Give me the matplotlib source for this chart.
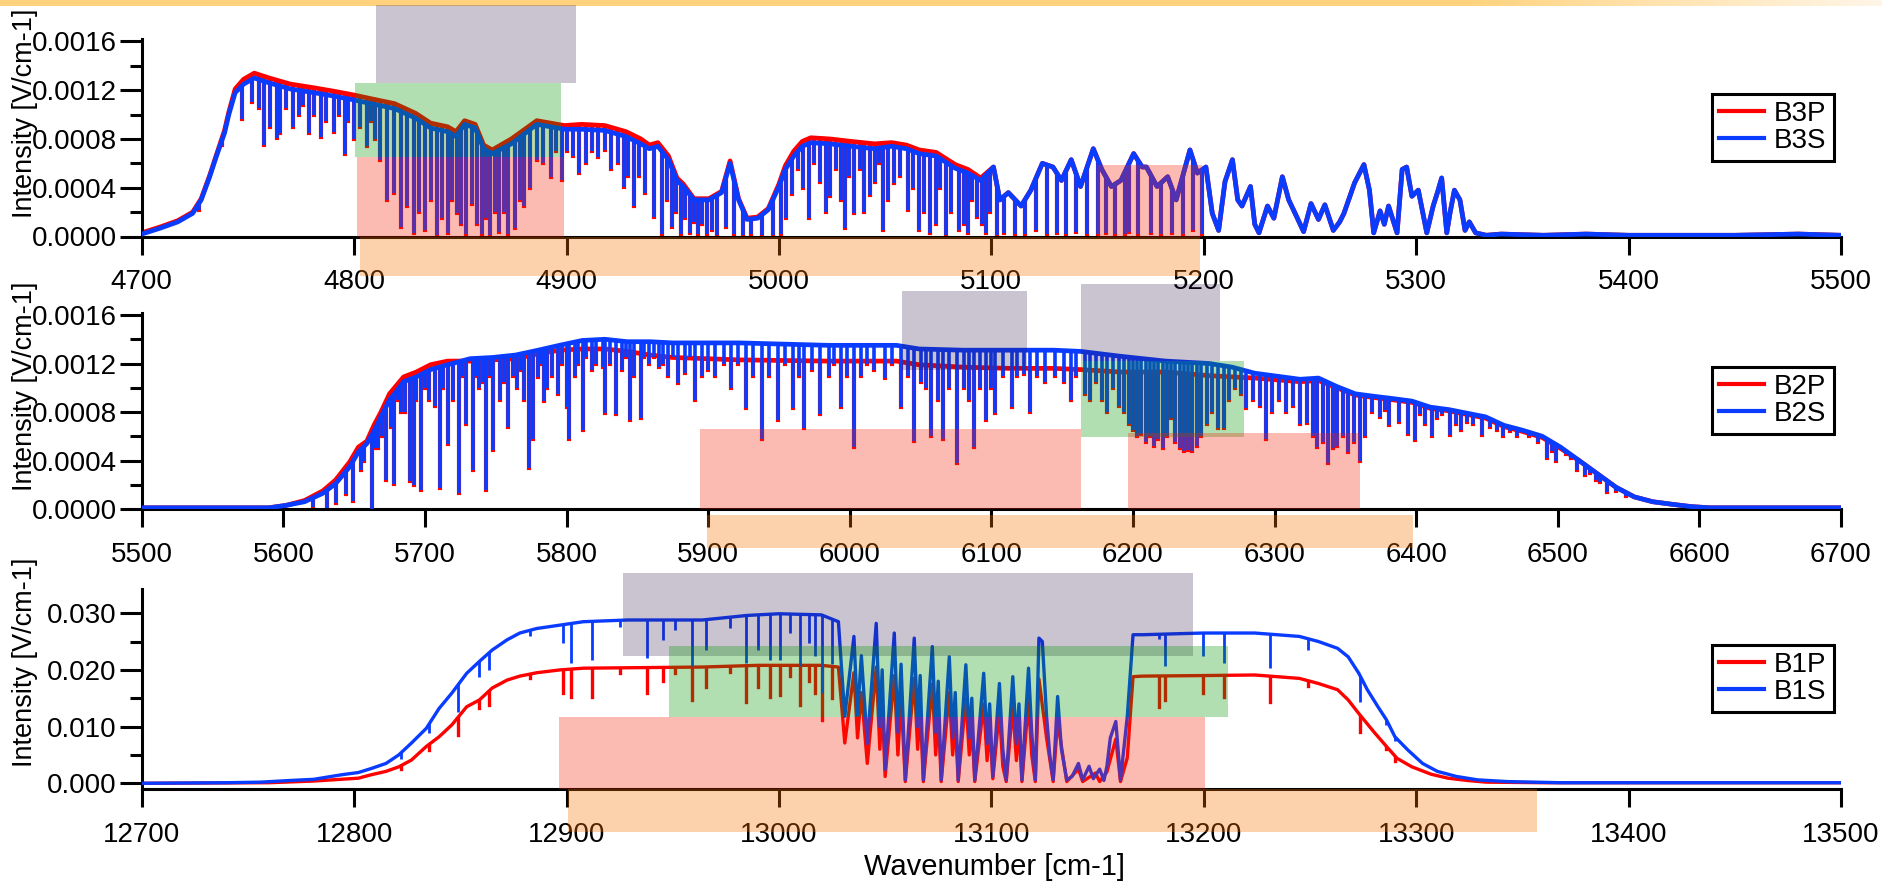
import numpy as np
import matplotlib
matplotlib.use("Agg")
import matplotlib.pyplot as plt
from matplotlib.patches import Rectangle, Polygon
from matplotlib.ticker import MultipleLocator, FormatStrFormatter

plt.rcParams['font.family'] = ['Liberation Sans', 'DejaVu Sans']

# ============================ DATA ============================
# ---- Panel 1 : band B3 (4700-5500 cm-1) ----
b3_names = ['B3P', 'B3S']
b3s_knots = [
    (4700, 0.00002), (4709, 0.00007), (4717, 0.00012), (4724, 0.00019), (4728, 0.0003),
    (4732, 0.00049), (4735, 0.00065), (4739, 0.00085), (4741, 0.001), (4744, 0.00118),
    (4748, 0.00125), (4753, 0.0013), (4760, 0.00126), (4770, 0.00121), (4781, 0.00118),
    (4791, 0.00115), (4800, 0.00112), (4808, 0.00109), (4819, 0.00105), (4829, 0.00097),
    (4836, 0.00089), (4844, 0.00086), (4848, 0.00082), (4852, 0.00092), (4857, 0.00089),
    (4861, 0.00072), (4865, 0.00068), (4874, 0.00076), (4886, 0.00092), (4899, 0.00088),
    (4907, 0.00088), (4918, 0.00087), (4928, 0.00082), (4935, 0.00076), (4939, 0.00072),
    (4943, 0.00074), (4948, 0.00063), (4952, 0.00046), (4955, 0.00041), (4960, 0.0003),
    (4967, 0.0003), (4973, 0.00036), (4977, 0.0006), (4981, 0.0003), (4985, 0.00014),
    (4990, 0.00015), (4995, 0.00022), (5000, 0.00041), (5003, 0.00055), (5007, 0.00066),
    (5011, 0.00074), (5015, 0.00077), (5024, 0.00076), (5034, 0.00074), (5045, 0.00072),
    (5053, 0.00074), (5060, 0.00072), (5066, 0.00068), (5074, 0.00066), (5083, 0.00056),
    (5089, 0.00052), (5095, 0.00046), (5101, 0.00057), (5104, 0.0003), (5108, 0.00036),
    (5114, 0.00025), (5118.6, 0.00038), (5124, 0.0006), (5129, 0.00057), (5133, 0.00046),
    (5137.6, 0.00063), (5142, 0.00041), (5148, 0.00072), (5152, 0.00055), (5156.5, 0.00041),
    (5161, 0.00046), (5167, 0.00068), (5171, 0.00057), (5173, 0.00057), (5178, 0.00041),
    (5183, 0.00049), (5187, 0.0003), (5193.5, 0.00071), (5197, 0.00052), (5201, 0.00057),
    (5204, 0.00019), (5207, 0.00005), (5210, 0.00045), (5213.5, 0.00063), (5216, 0.0003),
    (5218, 0.00025), (5222, 0.00041), (5224, 0.0001), (5226, 0.00003), (5230, 0.00025),
    (5233, 0.00015), (5237, 0.00049), (5240, 0.0003), (5243, 0.00019), (5247, 0.00004),
    (5250.5, 0.00027), (5254, 0.00014), (5257, 0.00026), (5261, 0.00005), (5264, 0.00012),
    (5266, 0.00019), (5271, 0.00044), (5275.4, 0.00059), (5278, 0.00038), (5280, 0.00003),
    (5283, 0.00021), (5285, 0.0001), (5287, 0.00025), (5291, 0.00003), (5293.4, 0.00055),
    (5295.5, 0.00057), (5298, 0.00033), (5301, 0.00038), (5305, 0.00003), (5308, 0.00025),
    (5310, 0.00036), (5312, 0.00048), (5314.4, 0.00003), (5316, 0.0002), (5318, 0.00038),
    (5320.6, 0.0003), (5323, 0.00005), (5325, 0.00012), (5328, 0.00003), (5333, 0.00001),
    (5340, 0.00002), (5360, 0.00001), (5380, 0.00002), (5400, 0.00001), (5450, 0.00001),
    (5480, 0.00002), (5500, 0.00001),
]
b3p_head = [
    (4700, 0.00003), (4709, 0.00008), (4717, 0.00013), (4724, 0.0002), (4728, 0.00031),
    (4732, 0.0005), (4735, 0.00066), (4739, 0.00087), (4741, 0.00102), (4744, 0.00121),
    (4748, 0.00129), (4753, 0.00134), (4760, 0.0013), (4770, 0.00125), (4781, 0.00122),
    (4791, 0.00119), (4800, 0.00116), (4808, 0.00113), (4819, 0.00109), (4829, 0.00101),
    (4836, 0.00093), (4844, 0.0009), (4848, 0.00086), (4852, 0.00095), (4857, 0.00092),
    (4861, 0.00075), (4865, 0.00071), (4874, 0.0008), (4886, 0.00095), (4899, 0.00091),
    (4907, 0.00092), (4918, 0.00091), (4928, 0.00086), (4935, 0.0008), (4939, 0.00075),
    (4943, 0.00077), (4948, 0.00066), (4952, 0.00048), (4955, 0.00043), (4960, 0.00031),
    (4967, 0.00031), (4973, 0.00037), (4977, 0.00062), (4981, 0.00031), (4985, 0.00015),
    (4990, 0.00016), (4995, 0.00023), (5000, 0.00043), (5003, 0.00058), (5007, 0.0007),
    (5011, 0.00078), (5015, 0.00081), (5024, 0.0008), (5034, 0.00078), (5045, 0.00076),
    (5053, 0.00077), (5060, 0.00075), (5066, 0.00071), (5074, 0.00069), (5083, 0.00059),
    (5089, 0.00055), (5095, 0.00048),
]
b3p_knots = b3p_head + [p for p in b3s_knots if p[0] > 5098]
b3_lines = [  # (position, minimum)
    (4727, 0.00022), (4738, 0.00075), (4747, 0.00096), (4752, 0.0011), (4755, 0.00105),
    (4757.6, 0.00075), (4760.3, 0.0009), (4763.5, 0.00081), (4765, 0.00085), (4768, 0.00105),
    (4771.3, 0.0009), (4774, 0.001), (4776, 0.00108), (4778.7, 0.00085), (4781, 0.001),
    (4784.6, 0.00082), (4787, 0.00095), (4790.3, 0.00086), (4793, 0.001), (4795.6, 0.00068),
    (4797, 0.00095), (4799.8, 0.0008), (4803, 0.0009), (4806, 0.00074), (4808, 0.00095),
    (4810, 0.0008), (4812.4, 0.00063), (4815.6, 0.0003), (4818.8, 0.00036), (4822, 0.00008),
    (4825, 0.00025), (4828, 0.00003), (4830.5, 0.0002), (4833.5, 0.00005), (4836, 0.0003),
    (4838.8, 0.00001), (4841.5, 0.00015), (4844, 0.00003), (4846, 0.0003), (4848.3, 0.00019),
    (4850.5, 0.0001), (4852.5, 0.00002), (4855.7, 0.00027), (4858, 0.0001), (4860, 0.00002),
    (4862, 0.00015), (4864, 0.00001), (4866.2, 0.0002), (4868.4, 0.00004), (4870.5, 0.0002),
    (4872.6, 0.00002), (4875.7, 0.00007), (4878, 0.0003), (4880, 0.00025), (4883, 0.0004),
    (4886, 0.00063), (4889, 0.0006), (4892.6, 0.00049), (4895, 0.0007), (4897.9, 0.00046),
    (4900, 0.0007), (4903, 0.00066), (4906, 0.00052), (4909, 0.0006), (4912, 0.0007),
    (4915, 0.00065), (4918, 0.00071), (4921, 0.00055), (4924, 0.0006), (4927, 0.00041),
    (4929, 0.0005), (4931.6, 0.00025), (4934, 0.0005), (4937, 0.00036), (4941, 0.00016),
    (4945, 0.00002), (4947.5, 0.0003), (4949.6, 0.00008), (4951.5, 0.0002), (4953.8, 0.00002),
    (4956, 0.00015), (4958, 0.00003), (4960, 0.00012), (4962, 0.00002), (4964, 0.0001),
    (4966, 0.00002), (4968.5, 0.00005), (4971, 0.00001), (4975, 0.00008), (4979, 0.00002),
    (4983, 0.00001), (4987, 0.00002), (4992, 0.00001), (4997, 0.00001), (5001, 0.00002),
    (5003.5, 0.00015), (5006, 0.00035), (5009, 0.00055), (5011.5, 0.0004), (5014, 0.00015),
    (5016.5, 0.0006), (5019.5, 0.00045), (5022, 0.0002), (5024, 0.00033), (5027, 0.00055),
    (5029, 0.0003), (5031, 0.00007), (5033, 0.0005), (5035.3, 0.00019), (5038, 0.00055),
    (5040, 0.0002), (5042.7, 0.00034), (5045, 0.00045), (5047, 0.0006), (5049, 0.00005),
    (5051.5, 0.0003), (5054.3, 0.00044), (5057, 0.0005), (5060.6, 0.00022), (5063, 0.0004),
    (5066, 0.00005), (5068.5, 0.0002), (5071, 0.00003), (5074, 0.0001), (5076, 0.0004),
    (5078.5, 0.00001), (5081, 0.0002), (5084.8, 0.00005), (5087, 0.0001), (5089, 0.00003),
    (5091, 0.0003), (5093.3, 0.00016), (5095.5, 0.0001), (5097.5, 0.00003), (5099.5, 0.0002),
    (5102.8, 0.00001), (5106, 0.00003), (5111, 0.00002), (5116, 0.00002), (5121, 0.00005),
    (5126, 0.00002), (5131, 0.00003), (5135, 0.00002), (5140, 0.00004), (5145, 0.00002),
    (5150, 0.00002), (5154, 0.00003), (5158, 0.00002), (5163, 0.00002), (5165, 0.00004),
    (5169, 0.00002), (5175, 0.00003), (5180, 0.00002), (5185, 0.00003), (5190, 0.00002),
    (5195, 0.00005), (5199, 0.00002),
]
b3_boxes = [  # (kind, x0, x1, y0, y1)
    ('grey', 4810.4, 4904.3, 0.00126, 0.0019),
    ('green', 4800.6, 4897.4, 0.000656, 0.00126),
    ('pink', 4801.4, 4898.6, 0.0, 0.000656),
    ('pink', 5149.8, 5199.0, 0.0, 0.000588),
    ('orange', 4803.0, 5198.0, -0.00032, 0.0),
]

# ---- Panel 2 : band B2 (5500-6700 cm-1) ----
b2_names = ['B2P', 'B2S']
b2s_knots = [
    (5500, 0.00001), (5540, 0.00001), (5580, 0.00001), (5590, 0.00001), (5602, 0.00003),
    (5615, 0.00006), (5628, 0.00013), (5637, 0.00021), (5647, 0.00035), (5653, 0.00047),
    (5659, 0.00054), (5664, 0.00064), (5669, 0.00076), (5675, 0.0009), (5680, 0.00097),
    (5685, 0.00105), (5694, 0.00109), (5704, 0.00115), (5716, 0.00119), (5732, 0.00124),
    (5748, 0.00125), (5764, 0.00127), (5780, 0.00131), (5795, 0.00135), (5811, 0.00139),
    (5827, 0.0014), (5843, 0.00138), (5859, 0.00138), (5875, 0.00137), (5922, 0.00137),
    (5985, 0.00135), (6033, 0.00135), (6049, 0.00132), (6080, 0.00131), (6112, 0.00131),
    (6144, 0.00131), (6163, 0.0013), (6191, 0.00126), (6223, 0.00122), (6254, 0.0012),
    (6270, 0.00117), (6286, 0.00112), (6318, 0.00107), (6331, 0.00108), (6344, 0.00101),
    (6357, 0.00095), (6370, 0.00093), (6384, 0.00091), (6397, 0.00089), (6410, 0.00084),
    (6423, 0.00082), (6436, 0.00079), (6449, 0.00076), (6462, 0.00069), (6475, 0.00065),
    (6489, 0.0006), (6502, 0.00051), (6515, 0.0004), (6528, 0.00029), (6541, 0.00018),
    (6554, 0.0001), (6567, 0.00006), (6580, 0.00004), (6594, 0.00002), (6607, 0.00001),
    (6650, 0.00001), (6700, 0.00001),
]
b2p_knots = [
    (5500, 0.00001), (5590, 0.00001), (5602, 0.00003), (5615, 0.00007), (5628, 0.00015),
    (5637, 0.00024), (5647, 0.00039), (5653, 0.00051), (5659, 0.00056), (5664, 0.00069),
    (5669, 0.0008), (5675, 0.00095), (5680, 0.00102), (5685, 0.00109), (5694, 0.00113),
    (5704, 0.00119), (5716, 0.00122), (5732, 0.00122), (5748, 0.00123), (5764, 0.00124),
    (5780, 0.00128), (5795, 0.00131), (5811, 0.00132), (5827, 0.00132), (5843, 0.0013),
    (5859, 0.00127), (5875, 0.00125), (5922, 0.00123), (5985, 0.00122), (6033, 0.00122),
    (6049, 0.00119), (6080, 0.00117), (6112, 0.00116), (6144, 0.00116), (6163, 0.00115),
    (6191, 0.00113), (6223, 0.00113), (6254, 0.0011), (6270, 0.00109), (6286, 0.00108),
    (6318, 0.00105), (6331, 0.00106), (6344, 0.001), (6357, 0.00094), (6370, 0.00092),
    (6384, 0.0009), (6397, 0.00088), (6410, 0.00083), (6423, 0.00081), (6436, 0.00078),
    (6449, 0.00075), (6462, 0.00068), (6475, 0.00064), (6489, 0.00059), (6502, 0.0005),
    (6515, 0.0004), (6528, 0.00029), (6541, 0.00018), (6554, 0.0001), (6567, 0.00006),
    (6580, 0.00004), (6594, 0.00002), (6607, 0.00001), (6650, 0.00001), (6700, 0.00001),
]
b2_lines = [
    (5621, 0.00002), (5631, 0.00001), (5637, 0.00005), (5644, 0.00012), (5649, 0.00007),
    (5655, 0.00032), (5657, 0.0004), (5662.6, 0.0), (5665, 0.0005), (5667, 0.0005),
    (5670, 0.0006), (5672.7, 0.00024), (5676, 0.00068), (5678.4, 0.00021), (5681, 0.0009),
    (5683, 0.0008), (5686, 0.0008), (5689.4, 0.00023), (5692.5, 0.0002), (5694, 0.0009),
    (5697.3, 0.00016), (5700, 0.001), (5703, 0.0009), (5707, 0.00085), (5711, 0.00017),
    (5713, 0.001), (5716.4, 0.00054), (5720, 0.0009), (5724, 0.00013), (5726, 0.0011),
    (5729, 0.0007), (5733.7, 0.00032), (5736, 0.0011), (5738, 0.001), (5741, 0.00105),
    (5743.3, 0.00016), (5746, 0.0011), (5748, 0.00049), (5753, 0.0009), (5756, 0.00105),
    (5759, 0.00068), (5762, 0.0011), (5765, 0.001), (5768, 0.00115), (5770, 0.0009),
    (5773.3, 0.00034), (5776.5, 0.00058), (5779.6, 0.00109), (5782, 0.0012), (5784.4, 0.00089),
    (5786, 0.001), (5790, 0.0011), (5793.8, 0.00095), (5797, 0.0012), (5800, 0.00084),
    (5801.8, 0.00058), (5806, 0.0011), (5808, 0.0012), (5811.3, 0.00065), (5814, 0.00125),
    (5818, 0.00115), (5821, 0.0012), (5825.5, 0.00117), (5827, 0.00079), (5831, 0.0012),
    (5835, 0.00078), (5839, 0.00115), (5842, 0.00125), (5844.5, 0.00073), (5848, 0.0011),
    (5852.4, 0.00075), (5855, 0.00125), (5858, 0.0012), (5862, 0.00125), (5865, 0.00117),
    (5868, 0.0012), (5872, 0.0011), (5875, 0.00125), (5879, 0.00104), (5884, 0.00112),
    (5887, 0.00125), (5890.6, 0.0009), (5896, 0.0011), (5900, 0.00115), (5905, 0.0011),
    (5911, 0.0012), (5916, 0.001), (5921, 0.0012), (5927, 0.00083), (5932, 0.0011),
    (5938, 0.00058), (5943, 0.0011), (5949, 0.00073), (5954, 0.0012), (5960, 0.00083),
    (5964, 0.0011), (5968, 0.00067), (5973, 0.00115), (5979, 0.00078), (5985, 0.0011),
    (5989, 0.0012), (5993.5, 0.00084), (5998, 0.0011), (6003, 0.00051), (6008, 0.0011),
    (6012, 0.0012), (6017, 0.00115), (6025, 0.00108), (6030, 0.0012), (6036, 0.00084),
    (6041, 0.0011), (6045.6, 0.00056), (6050, 0.00105), (6054, 0.001), (6057.7, 0.0006),
    (6062, 0.0009), (6066, 0.00058), (6070, 0.001), (6076, 0.00038), (6080.5, 0.001),
    (6084, 0.0009), (6087.4, 0.00051), (6092, 0.001), (6096, 0.00073), (6100, 0.001),
    (6102.6, 0.00079), (6108, 0.0011), (6114.6, 0.00084), (6118, 0.0011), (6123, 0.00111),
    (6127, 0.0008), (6132, 0.0011), (6138, 0.00105), (6145, 0.0011), (6151, 0.00105),
    (6156, 0.0009), (6160, 0.0011), (6166, 0.00095), (6170, 0.0009), (6174, 0.00105),
    (6178, 0.0009), (6182, 0.0008), (6186, 0.001), (6190, 0.00085), (6194, 0.0008),
    (6197, 0.0007), (6200, 0.00065), (6203, 0.0006), (6206, 0.00062), (6209, 0.00055),
    (6212, 0.0006), (6215, 0.00052), (6218, 0.00058), (6221, 0.0005), (6224, 0.0006),
    (6227, 0.00075), (6230, 0.00055), (6233, 0.0005), (6236, 0.00048), (6239, 0.00049),
    (6242, 0.00048), (6245, 0.00052), (6248, 0.0006), (6252, 0.0007), (6256, 0.0008),
    (6260, 0.00067), (6264, 0.00067), (6268, 0.0009), (6272, 0.001), (6276, 0.00095),
    (6280, 0.00083), (6285, 0.0009), (6290, 0.00085), (6294, 0.00058), (6298, 0.0008),
    (6303, 0.0009), (6308, 0.0008), (6313, 0.00085), (6318, 0.0007), (6323, 0.00071),
    (6327, 0.0006), (6330, 0.00051), (6334, 0.00055), (6337.7, 0.00038), (6341, 0.0005),
    (6344, 0.00052), (6348, 0.0006), (6352, 0.00047), (6356, 0.00055), (6360, 0.0004),
    (6364, 0.0006), (6369, 0.0008), (6374.4, 0.00076), (6378, 0.00082), (6381, 0.00069),
    (6387.6, 0.00072), (6394, 0.00062), (6399.4, 0.00057), (6403, 0.00078), (6406, 0.0007),
    (6411, 0.0006), (6415, 0.00075), (6418, 0.00078), (6424, 0.00061), (6428, 0.0007),
    (6432, 0.00065), (6436, 0.00072), (6440, 0.0007), (6446.6, 0.00061), (6452, 0.00068),
    (6457, 0.00065), (6461, 0.0006), (6466, 0.00064), (6471, 0.0006), (6480, 0.0006),
    (6486, 0.00055), (6492.6, 0.00042), (6496, 0.00048), (6499, 0.0004), (6506, 0.00045),
    (6509, 0.00042), (6513.6, 0.00032), (6519, 0.00028), (6523, 0.0003), (6527, 0.00024),
    (6530, 0.00022), (6534.6, 0.00014), (6541, 0.00015), (6548, 0.00011),
]
b2_boxes = [
    ('grey', 6036.8, 6125.4, 0.00115, 0.0018),
    ('grey', 6163.4, 6261.4, 0.00122, 0.00186),
    ('green', 6163.4, 6278.2, 0.000596, 0.00122),
    ('pink', 5894.4, 6163.6, 0.0, 0.00066),
    ('pink', 6196.3, 6360.0, 0.0, 0.000627),
    ('orange', 5899.4, 6398.0, -0.00032, -0.00005),
]

# ---- Panel 3 : band B1 (12700-13500 cm-1) ----
b1_names = ['B1P', 'B1S']
b1s_knots = [
    (12700, 0.0), (12740, 0.0001), (12756, 0.0002), (12770, 0.0005), (12781, 0.0007),
    (12794, 0.0015), (12802, 0.0019), (12808, 0.0026), (12815, 0.0035), (12821, 0.005),
    (12827, 0.0071), (12834, 0.0097), (12840, 0.0132), (12846, 0.0159), (12853, 0.0194),
    (12859, 0.0215), (12865, 0.0235), (12872, 0.0253), (12878, 0.0265), (12886, 0.0273),
    (12897, 0.0279), (12908, 0.0285), (12929, 0.0288), (12964, 0.0288), (12985, 0.0296),
    (13000, 0.0299), (13020, 0.0297), (13028, 0.0285), (13031, 0.0118), (13035.3, 0.0259),
    (13037, 0.012), (13038.8, 0.0225), (13041.6, 0.007), (13045.8, 0.0282), (13047.5, 0.01),
    (13048.6, 0.02), (13050, 0.0024), (13054.3, 0.0265), (13056, 0.009), (13057.5, 0.021),
    (13059.5, 0.0006), (13063.7, 0.0256), (13065.3, 0.01), (13066.5, 0.019), (13068, 0.0006),
    (13072.2, 0.0241), (13073.8, 0.009), (13075, 0.018), (13076.4, 0.0006), (13080.2, 0.0223),
    (13081.8, 0.008), (13083, 0.016), (13084.4, 0.0006), (13088, 0.0209), (13089.6, 0.008),
    (13090.8, 0.015), (13092.2, 0.0006), (13096.4, 0.0194), (13098, 0.007), (13099.2, 0.014),
    (13100.7, 0.0012), (13103.8, 0.0176), (13105.4, 0.006), (13107, 0.0006), (13110.1, 0.0188),
    (13111.8, 0.007), (13113, 0.014), (13114.4, 0.0006), (13117.5, 0.0203), (13119, 0.009),
    (13120.7, 0.0006), (13122.4, 0.0256), (13124, 0.025), (13126, 0.0118), (13127.5, 0.005),
    (13129.1, 0.0006), (13131.2, 0.0153), (13133, 0.006), (13135.5, 0.0006), (13138, 0.0012),
    (13141, 0.0035), (13143, 0.0006), (13146, 0.003), (13148, 0.0008), (13151, 0.0025),
    (13153, 0.0005), (13154.4, 0.003), (13156, 0.008), (13158.6, 0.0109), (13160.8, 0.0006),
    (13164, 0.0118), (13166.7, 0.0262), (13171, 0.0262), (13190, 0.0264), (13200, 0.0265),
    (13224, 0.0265), (13245, 0.0259), (13254, 0.025), (13263, 0.0238), (13268, 0.0223),
    (13273, 0.0194), (13277, 0.0165), (13282, 0.0135), (13286, 0.0112), (13290, 0.0082),
    (13296, 0.0059), (13303, 0.0035), (13310, 0.0021), (13319, 0.0012), (13329, 0.0006),
    (13343, 0.0003), (13368, 0.0001), (13400, 0.0001), (13450, 0.0001), (13500, 0.0001),
]
b1p_knots = [
    (12700, 0.0), (12760, 0.0001), (12781, 0.0004), (12802, 0.0009), (12808, 0.0015),
    (12815, 0.0021), (12821, 0.0029), (12827, 0.0041), (12834, 0.0065), (12840, 0.0082),
    (12846, 0.0103), (12853, 0.0135), (12859, 0.0147), (12865, 0.0168), (12872, 0.0182),
    (12878, 0.0189), (12886, 0.0195), (12897, 0.02), (12908, 0.0203), (12964, 0.0205),
    (12990, 0.0208), (13020, 0.0208), (13028, 0.0205), (13031, 0.0071), (13035.3, 0.0195),
    (13037, 0.008), (13038.8, 0.016), (13041.6, 0.0035), (13045.8, 0.0205), (13047.5, 0.006),
    (13048.6, 0.014), (13050, 0.0012), (13054.3, 0.019), (13056, 0.005), (13057.5, 0.015),
    (13059.5, 0.0003), (13063.7, 0.0185), (13065.3, 0.006), (13066.5, 0.013), (13068, 0.0003),
    (13072.2, 0.0175), (13073.8, 0.005), (13075, 0.012), (13076.4, 0.0003), (13080.2, 0.016),
    (13081.8, 0.005), (13083, 0.011), (13084.4, 0.0003), (13088, 0.015), (13089.6, 0.005),
    (13090.8, 0.01), (13092.2, 0.0003), (13096.4, 0.014), (13098, 0.004), (13099.2, 0.01),
    (13100.7, 0.0008), (13103.8, 0.0127), (13105.4, 0.003), (13107, 0.0003), (13110.1, 0.0135),
    (13111.8, 0.004), (13113, 0.01), (13114.4, 0.0003), (13117.5, 0.0145), (13119, 0.005),
    (13120.7, 0.0003), (13122.4, 0.0184), (13126, 0.008), (13129.1, 0.0003), (13131.2, 0.011),
    (13135.5, 0.0003), (13141, 0.0025), (13143, 0.0003), (13149, 0.0018), (13151, 0.0003),
    (13154.4, 0.002), (13158.6, 0.0078), (13160.8, 0.0003), (13164, 0.0045), (13166.7, 0.0188),
    (13171, 0.0189), (13200, 0.019), (13224, 0.0191), (13245, 0.0185), (13254, 0.0176),
    (13263, 0.0165), (13268, 0.0147), (13273, 0.0123), (13280, 0.0091), (13286, 0.0065),
    (13291, 0.0044), (13298, 0.0029), (13307, 0.0016), (13315, 0.0009), (13324, 0.0005),
    (13333, 0.0002), (13360, 0.0001), (13500, 0.0001),
]
b1_lines = [  # (position, minimum S, minimum P)
    (12822, 0.0042, 0.0025), (12835.4, 0.0089, 0.0059), (12849, 0.0126, 0.0085),
    (12859, 0.0188, 0.0132), (12863.3, 0.02, 0.0138), (12883, 0.0259, 0.0186),
    (12898.4, 0.0247, 0.016), (12902, 0.0212, 0.0153), (12912, 0.0218, 0.0153),
    (12925, 0.0275, 0.0195), (12938, 0.0221, 0.0159), (12945.5, 0.0253, 0.018),
    (12951, 0.0271, 0.0195), (12959, 0.0206, 0.0147), (12965.7, 0.0235, 0.017),
    (12977, 0.0274, 0.0197), (12984.6, 0.0212, 0.0144), (12990, 0.0235, 0.017),
    (12996, 0.0218, 0.0153), (13000.5, 0.0218, 0.0156), (13005, 0.0265, 0.019),
    (13010, 0.0206, 0.0138), (13014, 0.0247, 0.018), (13017, 0.0225, 0.016),
    (13020.5, 0.0159, 0.0112), (13025, 0.021, 0.015), (13178.7, 0.0255, 0.0135),
    (13181.9, 0.0206, 0.0147), (13199.8, 0.0224, 0.0159), (13209.3, 0.0212, 0.0153),
    (13231.4, 0.0203, 0.0144), (13249, 0.0235, 0.0171), (13273.5, 0.0144, 0.0091),
    (13286, 0.0103, 0.006), (13290, 0.0074, 0.004),
]
b1_boxes = [
    ('grey', 12926.5, 13195.0, 0.0224, 0.037),
    ('green', 12948.4, 13211.4, 0.0117, 0.02416),
    ('pink', 12896.5, 13200.5, -0.00106, 0.0117),
    ('orange', 12900.7, 13356.8, -0.0086, -0.00106),
]

# ============================ STYLE ============================
W, H = 1883, 882
RED = '#FF0000'
BLUE = '#0A3CFF'
BOX_COLORS = {
    'grey': (43 / 255, 20 / 255, 67 / 255, 0.25),
    'green': (0.0, 150 / 255, 0.0, 0.30),
    'pink': (245 / 255, 32 / 255, 0.0, 0.30),
    'orange': (248 / 255, 115 / 255, 0.0, 0.32),
}
TICK_FS = 20

fig = plt.figure(figsize=(W / 100, H / 100), dpi=100)

# header gradient bar
hax = fig.add_axes([0, 1 - 6 / H, 1, 6 / H])
hax.axis('off')
t = np.linspace(0, 1, 600)
w = np.clip((t - 0.78) / 0.22, 0, 1)[:, None]
c0 = np.array([255, 211, 126]) / 255
c1 = np.array([255, 246, 232]) / 255
grad = (c0 * (1 - w) + c1 * w)[None, :, :]
hax.imshow(grad, aspect='auto', extent=[0, 1, 0, 1])


def unzip(pairs):
    a = np.array(pairs, dtype=float)
    return [a[:, i] for i in range(a.shape[1])]


def draw_series(ax, knots, lx, lmin, color, z, floor, top, lw, dlw, cap):
    kx, ky = unzip(knots)
    ln, = ax.plot(kx, ky, color=color, lw=lw, zorder=z, solid_joinstyle='round')
    verts = np.column_stack([np.r_[kx[0], kx, kx[-1]], np.r_[floor, ky, floor]])
    clip = Polygon(verts, closed=True, transform=ax.transData)
    lc = ax.vlines(lx, lmin, top, colors=color, lw=dlw, zorder=z)
    lc.set_capstyle(cap)
    lc.set_clip_path(clip)
    return ln


def style_axes(ax, xlim, ylim, ymaj, fmt):
    ax.set_xlim(*xlim)
    ax.set_ylim(*ylim)
    ax.patch.set_visible(False)
    ax.xaxis.set_major_locator(MultipleLocator(100))
    ax.yaxis.set_major_locator(MultipleLocator(ymaj))
    ax.yaxis.set_minor_locator(MultipleLocator(ymaj / 2))
    ax.yaxis.set_major_formatter(FormatStrFormatter(fmt))
    ax.tick_params(axis='x', direction='out', length=13.2, width=2.2, pad=10.5,
                   labelsize=TICK_FS, colors='black')
    ax.tick_params(axis='y', which='major', direction='out', length=15.8, width=2.2,
                   pad=2.2, labelsize=TICK_FS)
    ax.tick_params(axis='y', which='minor', direction='out', length=8.6, width=2.2)
    for s in ['top', 'right']:
        ax.spines[s].set_visible(False)
    for s in ['left', 'bottom']:
        ax.spines[s].set_linewidth(2.2)


def add_boxes(ax, boxes):
    for kind, x0, x1, y0, y1 in boxes:
        ax.add_patch(Rectangle((x0, y0), x1 - x0, y1 - y0, facecolor=BOX_COLORS[kind],
                               edgecolor='none', clip_on=False, zorder=10))


def add_legend(ax, handles, names):
    leg = ax.legend(handles, names, loc='center right', bbox_to_anchor=(0.9956, 0.553),
                    fontsize=20, frameon=True, fancybox=False, edgecolor='black',
                    framealpha=1, handlelength=1.65, handletextpad=0.35,
                    labelspacing=0.02, borderpad=0.25, borderaxespad=0.0)
    leg.get_frame().set_linewidth(2.2)
    for h in leg.get_lines():
        h.set_linewidth(3.0)
    leg.set_zorder(20)


left = 141.7 / W
width = 1699.3 / W
panels = [
    dict(pos=[left, 1 - 236.5 / H, width, 197.5 / H], xlim=(4700, 5500),
         ylim=(0.0, 0.00162), ymaj=0.0004, fmt='%.4f',
         p=b3p_knots, s=b3s_knots, lines=b3_lines, boxes=b3_boxes, names=b3_names,
         floor=-0.001, top=0.01, ylab_y=113, lw=3.4, dlw=2.6),
    dict(pos=[left, 1 - 509 / H, width, 196.4 / H], xlim=(5500, 6700),
         ylim=(0.0, 0.00162), ymaj=0.0004, fmt='%.4f',
         p=b2p_knots, s=b2s_knots, lines=b2_lines, boxes=b2_boxes, names=b2_names,
         floor=-0.001, top=0.01, ylab_y=386, lw=3.4, dlw=2.6),
    dict(pos=[left, 1 - 789.3 / H, width, 200.5 / H], xlim=(12700, 13500),
         ylim=(-0.00106, 0.0343), ymaj=0.01, fmt='%.3f',
         p=b1p_knots, s=b1s_knots, lines=b1_lines, boxes=b1_boxes, names=b1_names,
         floor=-0.01, top=0.1, ylab_y=662, lw=2.4, dlw=2.0),
]

for cfg in panels:
    ax = fig.add_axes(cfg['pos'])
    cols = unzip(cfg['lines'])
    lx = cols[0]
    lmin_s = cols[1]
    lmin_p = cols[2] if len(cols) > 2 else cols[1]
    lp = draw_series(ax, cfg['p'], lx, lmin_p, RED, 2, cfg['floor'], cfg['top'],
                     cfg['lw'], cfg['dlw'] + 0.4, 'projecting')
    ls = draw_series(ax, cfg['s'], lx, lmin_s, BLUE, 3, cfg['floor'], cfg['top'],
                     cfg['lw'], cfg['dlw'], 'butt')
    style_axes(ax, cfg['xlim'], cfg['ylim'], cfg['ymaj'], cfg['fmt'])
    add_boxes(ax, cfg['boxes'])
    add_legend(ax, [lp, ls], cfg['names'])
    fig.text(25 / W, 1 - cfg['ylab_y'] / H, 'Intensity [V/cm-1]', rotation=90,
             ha='center', va='center', fontsize=19.5)

fig.text(994 / W, 1 - 867 / H, 'Wavenumber [cm-1]', ha='center', va='center', fontsize=21)

fig.savefig('out.png', dpi=100)
